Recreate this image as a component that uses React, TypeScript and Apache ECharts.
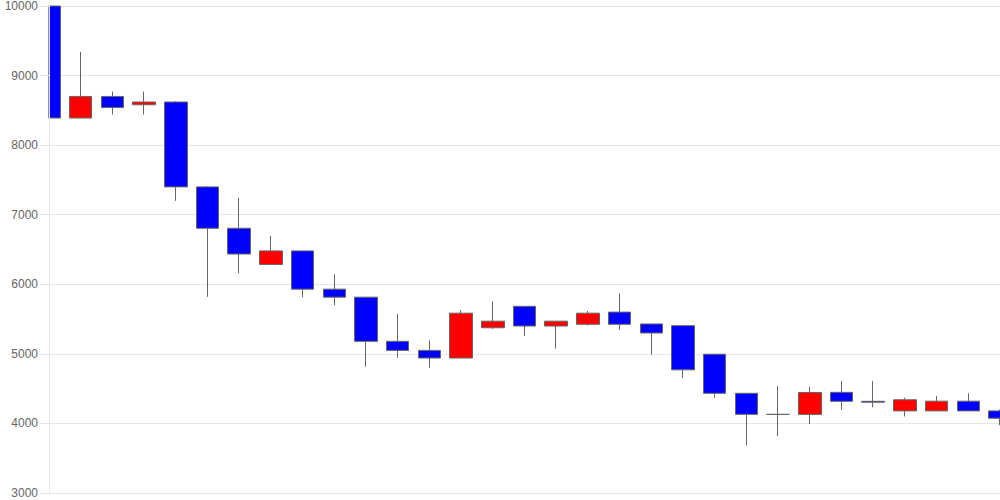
import React, { useEffect, useRef } from "react";
import * as echarts from "echarts";

const categories = Array.from({ length: 31 }, (_, i) => String(i + 1));
const opens = [10000, 8390, 8700, 8580, 8620, 7400, 6805, 6285, 6480, 5930, 5815, 5180, 5050, 4940, 5375, 5683, 5400, 5425, 5600, 5430, 5405, 4995, 4433, 4130, 4130, 4447, 4318, 4180, 4180, 4320, 4180];
const closes = [8390, 8700, 8540, 8620, 7400, 6805, 6435, 6480, 5930, 5815, 5180, 5050, 4940, 5585, 5470, 5400, 5470, 5585, 5425, 5300, 4770, 4433, 4131, 4130, 4445, 4318, 4305, 4340, 4320, 4180, 4075];
const lows = [8390, 8390, 8440, 8440, 7200, 5820, 6160, 6285, 5815, 5700, 4815, 4945, 4800, 4940, 5360, 5255, 5075, 5405, 5343, 4990, 4650, 4370, 3685, 3819, 3990, 4193, 4232, 4100, 4179, 4179, 3975];
const highs = [10000, 9340, 8770, 8770, 8630, 7410, 7245, 6695, 6480, 6145, 5815, 5575, 5195, 5630, 5755, 5683, 5472, 5615, 5870, 5430, 5405, 4995, 4433, 4538, 4528, 4610, 4610, 4370, 4394, 4433, 4200];
const yTicks = { min: 3000, max: 10000, interval: 1000 };

export default function App() {
  const ref = useRef<HTMLDivElement>(null);
  useEffect(() => {
    const chart = echarts.init(ref.current!, null, { renderer: "svg" });
    const data = categories.map((_, i) => [opens[i], closes[i], lows[i], highs[i]]);
    chart.setOption({
      animation: false,
      grid: { left: 49, right: 0, top: 6, bottom: 7 },
      graphic: [
        {
          type: "rect",
          z: 5,
          shape: { x: 34, y: 0, width: 14.5, height: 500 },
          style: { fill: "#ffffff" },
          silent: true,
        },
      ],
      xAxis: {
        type: "category",
        data: categories,
        boundaryGap: false,
        axisLine: { show: true, lineStyle: { color: "#e6e6e6" } },
        axisTick: { show: false },
        axisLabel: { show: false },
        splitLine: { show: false },
      },
      yAxis: [
        {
          type: "value",
          min: yTicks.min,
          max: yTicks.max,
          interval: yTicks.interval,
          axisLine: { show: false },
          axisTick: { show: false },
          axisLabel: { show: false },
          splitLine: { show: true, lineStyle: { color: "#e6e6e6" } },
        },
        {
          type: "value",
          position: "left",
          z: 10,
          min: yTicks.min,
          max: yTicks.max,
          interval: yTicks.interval,
          axisLine: { show: true, lineStyle: { color: "#e6e6e6" } },
          axisTick: { show: true, length: 9, lineStyle: { color: "#e6e6e6" } },
          axisLabel: {
            color: "#666",
            fontSize: 12,
            fontFamily: "Liberation Sans, Arial, sans-serif",
            margin: 11,
            formatter: (v: number) => String(v),
          },
          splitLine: { show: false },
        },
      ],
      series: [
        {
          type: "candlestick",
          yAxisIndex: 0,
          data,
          barWidth: 23,
          clip: true,
          itemStyle: {
            color: "#ff0000",
            color0: "#0000ff",
            borderColor: "#666666",
            borderColor0: "#666666",
            borderWidth: 1,
          },
        },
      ],
    });
    return () => chart.dispose();
  }, []);
  return <div ref={ref} style={{ width: 1000, height: 500, position: "absolute", left: 0, top: 0 }} />;
}
